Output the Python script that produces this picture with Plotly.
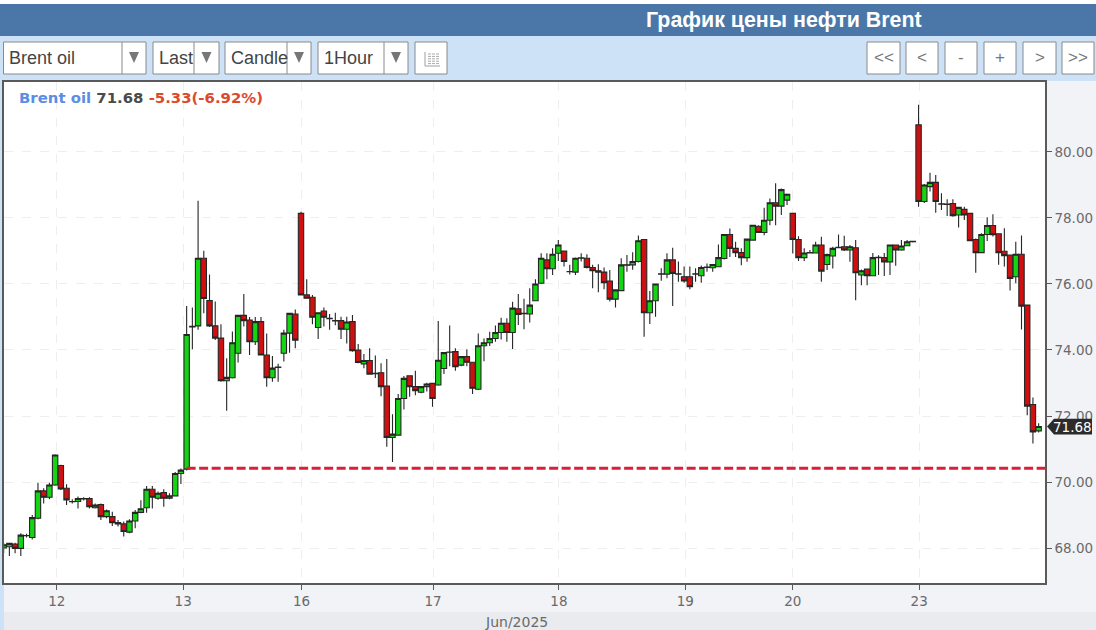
import plotly.graph_objects as go

# Hourly Brent candles
opens = [68.00,68.04,68.12,67.99,68.38,68.32,68.90,69.73,69.54,69.91,70.50,69.81,69.41,69.41,69.50,69.50,69.22,69.32,68.95,68.95,68.77,68.73,68.48,68.82,69.08,69.22,69.78,69.51,69.68,69.51,69.58,70.26,
 70.39,74.70,74.73,76.78,75.50,74.73,74.36,73.07,73.16,73.90,75.05,74.91,74.25,74.86,73.85,73.16,73.47,73.90,74.51,75.09,78.14,75.67,75.60,74.68,75.18,74.96,74.89,74.89,74.63,74.86,74.00,73.58,73.68,73.29,73.31,
 72.91,71.35,71.42,72.53,73.22,72.89,72.72,72.89,72.99,72.94,73.44,73.93,73.95,73.54,73.80,73.63,72.81,74.13,74.22,74.35,74.53,74.81,74.53,75.25,
 75.10,75.09,75.49,76.02,76.73,76.46,76.93,77.00,76.38,76.36,76.78,76.78,76.50,76.40,76.36,76.09,75.54,75.80,76.58,76.58,76.68,77.35,75.13,75.49,76.30,76.30,76.73,76.31,76.22,76.22,76.31,76.25,
 76.50,76.49,76.52,76.77,77.50,77.08,76.95,76.80,77.33,77.75,77.56,77.93,78.46,78.36,78.54,78.14,77.35,76.80,76.94,76.94,77.18,76.59,76.85,77.10,77.13,77.03,77.10,76.27,76.45,76.25,76.80,76.80,76.67,77.18,77.03,77.16,77.28,
 80.82,78.50,78.95,79.08,78.42,78.42,78.44,78.09,78.26,78.14,77.35,76.95,77.50,77.77,77.52,76.99,76.88,76.22,76.90,75.36,72.35,71.55]
highs = [68.15,68.16,68.16,68.45,68.43,69.00,69.98,69.81,69.98,70.84,70.52,69.93,69.48,69.56,69.54,69.54,69.35,69.35,69.17,69.10,68.85,68.80,68.87,69.15,69.45,69.88,69.88,69.71,69.78,69.66,70.30,70.41,
 75.33,75.29,78.52,77.01,76.29,75.47,74.78,73.75,74.56,75.05,75.70,75.00,75.00,75.00,74.50,73.82,73.58,74.61,75.11,75.23,78.19,76.14,75.67,75.13,75.29,75.09,75.13,75.01,75.01,75.06,74.18,73.88,74.05,73.83,73.60,
 73.73,72.05,72.67,73.21,73.22,73.37,72.91,73.01,73.01,74.88,73.92,74.74,74.05,73.82,74.02,73.63,74.50,74.35,74.55,74.74,74.98,74.96,75.46,75.70,
 75.55,75.87,76.14,76.93,76.93,77.08,77.33,77.00,76.58,76.80,76.93,76.90,76.58,76.60,76.50,76.42,75.82,76.78,76.88,76.96,77.47,77.35,75.79,76.00,76.48,76.93,77.10,76.68,76.53,76.53,76.48,76.56,
 76.62,76.59,77.20,77.50,77.68,77.28,77.08,77.36,77.78,77.78,78.31,78.59,79.05,78.89,78.74,78.14,77.45,77.08,77.03,77.28,77.43,76.92,77.13,77.50,77.46,77.18,77.33,76.44,76.45,76.94,76.87,76.94,77.18,77.18,77.33,77.33,77.31,
 81.43,79.03,79.37,79.30,78.75,78.57,78.57,78.34,78.34,78.16,77.38,77.54,78.02,78.11,77.52,77.69,76.88,77.28,77.47,75.36,72.56,71.78]
lows = [67.85,67.76,67.84,67.76,68.32,68.26,68.87,69.35,69.48,69.89,69.76,69.30,69.35,69.20,69.44,69.20,69.20,68.85,68.90,68.67,68.65,68.35,68.45,68.60,69.05,69.07,69.20,69.46,69.25,69.48,69.56,69.94,
 70.35,74.02,74.61,75.11,74.70,74.30,73.04,72.16,73.14,73.62,74.71,73.85,74.15,73.83,72.89,73.04,73.04,73.65,73.92,74.05,75.65,75.55,74.78,74.33,74.71,74.61,74.75,74.33,74.20,73.95,73.60,73.45,73.25,73.15,72.60,
 71.07,70.61,71.40,72.20,72.58,72.63,72.69,72.74,72.28,72.92,73.27,73.51,73.37,73.51,73.51,72.67,72.79,73.66,74.12,74.25,74.32,74.25,74.03,74.76,
 74.63,74.83,75.48,76.00,76.14,76.27,76.70,76.53,76.29,76.27,76.68,76.47,75.87,75.75,75.84,75.47,75.29,75.80,76.37,76.43,76.65,74.40,74.79,75.01,76.10,76.17,75.33,76.07,76.04,75.84,76.07,76.04,
 76.37,76.37,76.52,76.74,76.82,76.82,76.57,76.67,77.33,77.56,77.48,77.78,77.78,78.09,78.39,76.92,76.70,76.70,76.92,76.92,76.07,76.42,76.47,77.08,77.00,76.67,75.51,75.96,75.96,76.25,76.27,76.24,76.27,76.55,77.01,77.15,77.26,
 78.34,78.45,78.80,78.16,78.24,78.06,78.04,77.71,77.94,77.31,76.34,76.93,77.30,77.44,76.58,76.53,75.80,76.02,74.62,72.02,71.17,71.50]
closes = [68.10,68.14,67.99,68.39,68.37,68.92,69.73,69.54,69.91,70.82,69.79,69.46,69.40,69.50,69.49,69.25,69.30,68.95,69.13,68.77,68.73,68.50,68.82,69.08,69.19,69.78,69.54,69.66,69.51,69.58,70.26,70.36,
 74.47,74.72,76.78,75.56,74.73,74.36,73.07,73.17,74.22,75.05,74.89,74.25,74.86,73.85,73.16,73.45,73.48,74.51,75.11,74.30,75.67,75.57,74.99,75.13,74.99,74.95,74.88,74.63,74.85,73.98,73.62,73.68,73.27,73.28,72.89,
 71.35,71.45,72.53,73.14,72.89,72.77,72.89,72.97,72.53,73.69,73.92,73.94,73.49,73.80,73.63,72.84,74.13,74.22,74.35,74.53,74.81,74.53,75.27,75.08,
 75.11,75.36,76.00,76.78,76.46,76.90,77.18,76.68,76.37,76.78,76.79,76.50,76.40,76.36,76.04,75.54,75.82,76.58,76.57,76.68,77.31,75.13,75.49,76.00,76.31,76.73,76.32,76.30,76.09,75.92,76.30,76.50,
 76.51,76.59,76.80,77.50,77.08,76.95,76.80,77.36,77.78,77.56,77.93,78.46,78.36,78.86,78.72,77.35,76.80,76.94,76.95,77.18,76.39,76.89,77.08,77.11,77.03,77.13,76.34,76.40,76.25,76.80,76.81,76.67,77.18,77.03,77.15,77.28,77.29,
 78.50,79.00,79.08,78.50,78.43,78.41,78.07,78.32,78.09,77.31,76.95,77.50,77.77,77.49,76.95,76.86,76.17,76.90,75.33,72.30,71.52,71.68]

day_labels = ["12", "13", "16", "17", "18", "19", "20", "23"]
day_candle = [9.3, 31.4, 52.1, 75.1, 97.1, 119.2, 138.0, 160.1]
price_ticks = [68, 70, 72, 74, 76, 78, 80]
support_level = 70.42
support_from = 32
last_price = 71.68
change_text = "-5.33(-6.92%)"

W, H = 1096, 630
def X(p): return p / W
def Y(p): return 1 - p / H

GREY_TXT = "#6a6a6a"
shapes, ann = [], []

def rect(x0, y0, x1, y1, fill, line=None, lw=1):
    shapes.append(dict(type="rect", xref="paper", yref="paper", x0=X(x0), x1=X(x1), y0=Y(y1), y1=Y(y0),
                       fillcolor=fill, line=dict(color=line or fill, width=lw if line else 0), layer="below"))

def seg(x0, y0, x1, y1, color="#8a8a8a", lw=1):
    shapes.append(dict(type="line", xref="paper", yref="paper", x0=X(x0), x1=X(x1), y0=Y(y0), y1=Y(y1),
                       line=dict(color=color, width=lw), layer="above"))

def txt(x, y, s, size=18, color="#444444", anchor="left", fam="Liberation Sans"):
    ann.append(dict(xref="paper", yref="paper", x=X(x), y=Y(y), text=s, showarrow=False, xanchor=anchor,
                    yanchor="middle", font=dict(family=fam, size=size, color=color), borderpad=0))

def tri(cx, cy, w=5, h=11, color="#777777"):
    shapes.append(dict(type="path", xref="paper", yref="paper",
                       path=f"M{X(cx-w)},{Y(cy-h/2)} L{X(cx+w)},{Y(cy-h/2)} L{X(cx)},{Y(cy+h/2)} Z",
                       fillcolor=color, line=dict(width=0), layer="above"))

# page bands
rect(0, 0, W, 4, "#ffffff")
rect(0, 4, W, 36, "#4a77a8")
rect(0, 36, W, 81, "#cde1f7")
rect(0, 81, 4, H, "#cde1f7")
rect(4, 612, W, H, "#e9ebef")

txt(784, 20, "<b>График цены нефти Brent</b>", size=21.4, color="#ffffff", anchor="center")

# drop-down controls
controls = [("Brent oil", 3.5, 146, 122), ("Last", 153, 219, 194), ("Candle", 225, 311, 287), ("1Hour", 318, 408, 384)]
for label, x0, x1, d in controls:
    rect(x0, 42, x1, 74, "#ffffff", "#8a8a8a")
    txt(x0 + 4.5, 58, label)
    seg(d, 42, d, 74)
    tri((d + x1) / 2, 57.5)
rect(415, 42, 447, 74, "#ffffff", "#8a8a8a")
seg(425, 52, 425, 66, "#a0a0a0")
seg(425, 66, 440, 66, "#a0a0a0")
for row in range(5):
    y = 54 + row * 2.4
    seg(428, y, 431, y, "#a8a8a8"); seg(432, y, 435, y, "#a8a8a8"); seg(436, y, 439, y, "#a8a8a8")

for s, x0, x1 in [("&lt;&lt;", 867, 900), ("&lt;", 906, 938), ("-", 945, 977), ("+", 984, 1016), ("&gt;", 1023, 1056), ("&gt;&gt;", 1062, 1094)]:
    rect(x0, 42, x1, 74, "#ffffff", "#8a8a8a")
    txt((x0 + x1) / 2, 57.5, s, size=17, color="#777777", anchor="center")

# summary line inside the plot
ann.append(dict(xref="paper", yref="paper", x=X(17), y=Y(97.5), showarrow=False, xanchor="left", yanchor="middle",
                font=dict(family="DejaVu Sans", size=14.9),
                text=f"<b><span style='color:#5b8de3'>Brent oil</span> <span style='color:#4a4a4a'>{last_price}</span> "
                     f"<span style='color:#db4a2e'>{change_text}</span></b>"))
txt(516, 622, "Jun/2025", size=14, color=GREY_TXT, anchor="center", fam="DejaVu Sans")

# last-price flag
shapes.append(dict(type="path", xref="paper", yref="y",
                   path=f"M{X(1047)},{last_price} L{X(1054)},{last_price+0.24} L{X(1092)},{last_price+0.24} "
                        f"L{X(1092)},{last_price-0.24} L{X(1054)},{last_price-0.24} Z",
                   fillcolor="#2b2b2b", line=dict(width=0), layer="above"))
ann.append(dict(xref="paper", yref="y", x=X(1072.5), y=last_price, text=f"{last_price}", showarrow=False, xanchor="center",
                yanchor="middle", font=dict(family="DejaVu Sans", size=13.5, color="#ffffff")))

x_index = list(range(len(opens)))
fig = go.Figure()
fig.add_trace(go.Candlestick(
    x=x_index, open=opens, high=highs, low=lows, close=closes, whiskerwidth=0,
    increasing=dict(fillcolor="#14d414", line=dict(color="#262626", width=1.1)),
    decreasing=dict(fillcolor="#d01010", line=dict(color="#262626", width=1.1)),
    hoverinfo="skip", showlegend=False))
fig.add_trace(go.Scatter(
    x=[support_from, x_index[-1] + 1.3], y=[support_level, support_level], mode="lines", cliponaxis=False,
    line=dict(color="#d8203a", width=3, dash="9px,3.5px"), hoverinfo="skip", showlegend=False))

axis_line = dict(showline=True, linecolor="#5a5a5a", linewidth=1.5, mirror=True, ticks="outside", ticklen=5,
                 tickcolor="#5a5a5a", gridcolor="#eeeeee", griddash="dash", gridwidth=1, zeroline=False, showgrid=True,
                 tickfont=dict(family="DejaVu Sans", size=13.5, color=GREY_TXT))
fig.update_layout(
    width=W, height=H, margin=dict(l=0, r=0, t=0, b=0), autosize=False,
    paper_bgcolor="#f1f3f7", plot_bgcolor="#ffffff", boxgap=0.06, boxgroupgap=0, showlegend=False,
    shapes=shapes, annotations=ann,
    xaxis=dict(domain=[X(4), X(1045)], range=[0.06, 182.11], tickmode="array", tickvals=day_candle, ticktext=day_labels,
               rangeslider=dict(visible=False), **axis_line),
    yaxis=dict(domain=[Y(583), Y(82)], range=[66.94, 82.12], side="right", tickmode="array", tickvals=price_ticks,
               ticktext=[f"{v:.2f}" for v in price_ticks], **axis_line),
)
fig.write_html("out.html", post_script="document.body.style.margin='0';", config=dict(displayModeBar=False))
